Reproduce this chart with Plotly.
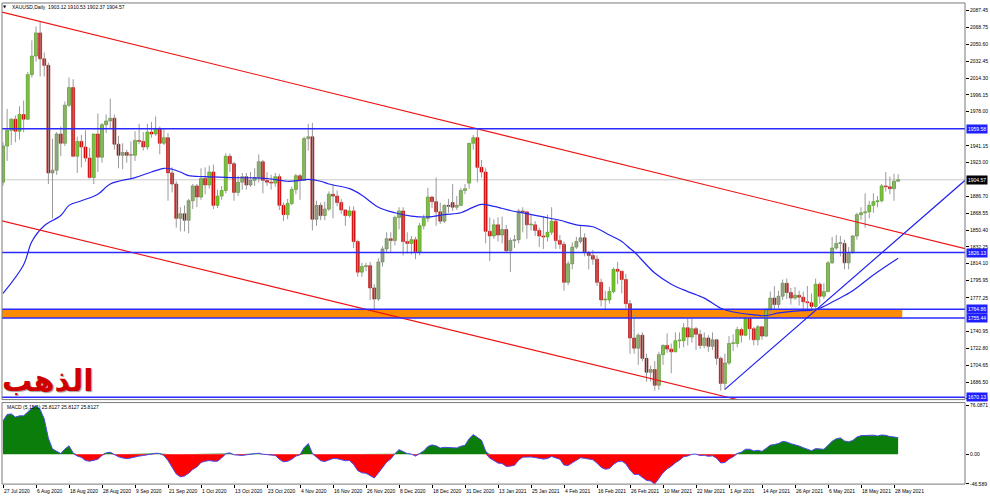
import plotly.graph_objects as go

# ---------------- data ----------------
tick_bars = [0, 8, 16, 24, 32, 40, 48, 56, 64, 72, 80, 88, 96, 104, 112, 120, 128,
             136, 144, 152, 160, 168, 176, 184, 192, 200, 208, 216]
tick_labels = ["27 Jul 2020", "6 Aug 2020", "18 Aug 2020", "28 Aug 2020", "9 Sep 2020",
               "21 Sep 2020", "1 Oct 2020", "13 Oct 2020", "23 Oct 2020", "4 Nov 2020",
               "16 Nov 2020", "26 Nov 2020", "8 Dec 2020", "18 Dec 2020", "31 Dec 2020",
               "13 Jan 2021", "25 Jan 2021", "4 Feb 2021", "16 Feb 2021", "26 Feb 2021",
               "10 Mar 2021", "22 Mar 2021", "1 Apr 2021", "14 Apr 2021", "26 Apr 2021",
               "6 May 2021", "18 May 2021", "28 May 2021"]

opens = [1902, 1941, 1958, 1970, 1957, 1975, 1970, 2018, 2038, 2063,
         2035, 2028, 1912, 1915, 1954, 1944, 1985, 2004, 1930, 1946,
         1940, 1928, 1907, 1954, 1929, 1964, 1968, 1971, 1943, 1931,
         1934, 1931, 1931, 1947, 1946, 1940, 1956, 1954, 1960, 1944,
         1950, 1912, 1900, 1863, 1868, 1861, 1882, 1898, 1886, 1906,
         1899, 1913, 1877, 1887, 1893, 1930, 1922, 1891, 1902, 1908,
         1899, 1904, 1907, 1924, 1904, 1902, 1901, 1908, 1877, 1867,
         1879, 1894, 1909, 1904, 1949, 1951, 1862, 1877, 1866, 1873,
         1889, 1887, 1880, 1872, 1866, 1871, 1838, 1805, 1811, 1812,
         1788, 1776, 1816, 1830, 1841, 1839, 1864, 1871, 1838, 1836,
         1840, 1827, 1855, 1863, 1886, 1881, 1870, 1860, 1877, 1880,
         1875, 1877, 1893, 1901, 1944, 1950, 1918, 1913, 1849, 1844,
         1856, 1845, 1851, 1828, 1839, 1840, 1871, 1870, 1856, 1856,
         1850, 1844, 1843, 1848, 1860, 1839, 1835, 1794, 1814, 1832,
         1838, 1842, 1826, 1823, 1819, 1794, 1775, 1775, 1784, 1808,
         1806, 1797, 1771, 1734, 1723, 1737, 1712, 1697, 1700, 1683,
         1716, 1726, 1722, 1719, 1731, 1731, 1745, 1735, 1744, 1738,
         1726, 1734, 1725, 1732, 1712, 1685, 1707, 1728, 1728, 1743,
         1737, 1755, 1744, 1732, 1746, 1736, 1764, 1777, 1770, 1779,
         1793, 1783, 1777, 1780, 1778, 1773, 1772, 1768, 1792, 1779,
         1784, 1815, 1831, 1836, 1836, 1815, 1826, 1844, 1867, 1869,
         1870, 1877, 1881, 1882, 1898, 1897, 1895, 1903.12]

highs = [1945, 1981, 1971, 1974, 1984, 1990, 2021, 2055, 2070, 2075,
         2042, 2031, 1949, 1956, 1962, 1989, 2015, 2013, 1951, 1953,
         1958, 1939, 1954, 1976, 1966, 1975, 1992, 1975, 1952, 1944,
         1937, 1946, 1957, 1965, 1956, 1965, 1967, 1973, 1962, 1960,
         1955, 1918, 1903, 1875, 1877, 1884, 1900, 1900, 1917, 1918,
         1920, 1921, 1894, 1898, 1933, 1933, 1924, 1909, 1912, 1912,
         1913, 1917, 1932, 1926, 1913, 1910, 1912, 1911, 1880, 1884,
         1897, 1911, 1911, 1951, 1965, 1966, 1882, 1880, 1881, 1892,
         1900, 1893, 1884, 1873, 1876, 1876, 1840, 1815, 1815, 1816,
         1792, 1820, 1833, 1848, 1848, 1866, 1875, 1875, 1848, 1844,
         1843, 1858, 1867, 1896, 1887, 1907, 1880, 1878, 1884, 1900,
         1887, 1896, 1900, 1944, 1953, 1959, 1926, 1917, 1864, 1862,
         1864, 1865, 1856, 1842, 1845, 1873, 1875, 1870, 1867, 1860,
         1853, 1865, 1867, 1875, 1862, 1845, 1838, 1817, 1837, 1843,
         1855, 1847, 1828, 1829, 1823, 1798, 1785, 1789, 1810, 1816,
         1806, 1803, 1775, 1760, 1739, 1740, 1717, 1704, 1709, 1719,
         1727, 1739, 1728, 1740, 1740, 1750, 1755, 1755, 1746, 1743,
         1740, 1737, 1740, 1733, 1714, 1717, 1736, 1738, 1746, 1745,
         1759, 1758, 1746, 1748, 1746, 1766, 1784, 1790, 1785, 1797,
         1798, 1788, 1789, 1785, 1784, 1790, 1782, 1798, 1794, 1793,
         1817, 1843, 1845, 1844, 1840, 1832, 1845, 1869, 1875, 1890,
         1882, 1890, 1887, 1900, 1913, 1908, 1911, 1910.53]

lows = [1898, 1925, 1942, 1945, 1948, 1956, 1969, 2015, 2032, 2016,
        2016, 1900, 1863, 1910, 1930, 1941, 1983, 1929, 1912, 1918,
        1924, 1906, 1900, 1913, 1923, 1955, 1960, 1937, 1917, 1916,
        1923, 1906, 1925, 1943, 1936, 1937, 1950, 1952, 1932, 1942,
        1882, 1891, 1853, 1849, 1849, 1847, 1873, 1875, 1883, 1889,
        1895, 1873, 1874, 1883, 1890, 1913, 1882, 1887, 1894, 1894,
        1897, 1898, 1902, 1890, 1898, 1894, 1897, 1872, 1860, 1862,
        1877, 1889, 1883, 1904, 1936, 1850, 1855, 1861, 1861, 1871,
        1863, 1876, 1868, 1855, 1864, 1831, 1800, 1800, 1806, 1775,
        1765, 1774, 1811, 1826, 1826, 1834, 1851, 1823, 1825, 1824,
        1819, 1823, 1851, 1859, 1874, 1855, 1857, 1858, 1869, 1871,
        1872, 1876, 1889, 1895, 1937, 1902, 1907, 1836, 1817, 1841,
        1838, 1836, 1826, 1805, 1831, 1836, 1848, 1841, 1850, 1844,
        1832, 1830, 1838, 1845, 1830, 1830, 1785, 1791, 1808, 1830,
        1836, 1822, 1808, 1813, 1790, 1768, 1760, 1771, 1782, 1792,
        1782, 1766, 1717, 1717, 1705, 1709, 1687, 1687, 1677, 1678,
        1705, 1718, 1696, 1719, 1723, 1724, 1726, 1729, 1721, 1722,
        1723, 1719, 1721, 1705, 1677, 1678, 1705, 1720, 1724, 1729,
        1736, 1732, 1726, 1726, 1732, 1735, 1759, 1764, 1766, 1775,
        1776, 1770, 1775, 1769, 1763, 1757, 1763, 1766, 1771, 1776,
        1784, 1814, 1829, 1822, 1808, 1808, 1825, 1840, 1861, 1853,
        1863, 1869, 1875, 1880, 1892, 1889, 1882, 1902.37]

closes = [1941, 1958, 1970, 1957, 1975, 1970, 2018, 2038, 2063, 2035,
          2028, 1912, 1915, 1954, 1944, 1985, 2004, 1930, 1946, 1940,
          1928, 1907, 1954, 1929, 1964, 1968, 1971, 1943, 1931, 1934,
          1931, 1931, 1947, 1946, 1940, 1956, 1954, 1960, 1944, 1950,
          1912, 1900, 1863, 1868, 1861, 1882, 1898, 1886, 1906, 1899,
          1913, 1877, 1887, 1893, 1930, 1922, 1891, 1902, 1908, 1899,
          1904, 1907, 1924, 1904, 1902, 1901, 1908, 1877, 1867, 1879,
          1894, 1909, 1904, 1949, 1951, 1862, 1877, 1866, 1873, 1889,
          1887, 1880, 1872, 1866, 1871, 1838, 1805, 1811, 1812, 1788,
          1776, 1816, 1830, 1841, 1839, 1864, 1871, 1838, 1836, 1840,
          1827, 1855, 1863, 1886, 1881, 1870, 1860, 1877, 1876, 1875,
          1877, 1893, 1895, 1944, 1950, 1918, 1913, 1849, 1844, 1856,
          1845, 1851, 1828, 1839, 1840, 1871, 1870, 1856, 1856, 1850,
          1844, 1843, 1848, 1860, 1839, 1835, 1794, 1814, 1832, 1838,
          1842, 1826, 1823, 1819, 1794, 1775, 1775, 1784, 1808, 1806,
          1797, 1771, 1734, 1723, 1737, 1712, 1697, 1700, 1683, 1716,
          1726, 1722, 1719, 1731, 1731, 1745, 1735, 1744, 1738, 1726,
          1734, 1725, 1732, 1712, 1685, 1707, 1728, 1728, 1743, 1737,
          1755, 1744, 1732, 1746, 1736, 1764, 1777, 1770, 1779, 1793,
          1783, 1777, 1780, 1778, 1773, 1772, 1768, 1792, 1779, 1784,
          1815, 1831, 1836, 1836, 1815, 1826, 1844, 1867, 1869, 1870,
          1877, 1881, 1882, 1898, 1897, 1895, 1903, 1904.57]

# moving average (read at sample bars)
ma_bars = [0, 5, 7, 10, 14, 16, 19, 23, 26, 32, 36, 39, 41, 43, 45, 49, 56, 64, 69, 72,
           74, 77, 79, 84, 87, 91, 95, 99, 103, 107, 111, 113, 116, 119, 123, 127, 131,
           135, 139, 143, 147, 150, 152, 153, 158, 162, 166, 170, 174, 177, 182, 185,
           188, 192, 196, 198, 202, 206, 211, 217]
ma_values = [1782, 1813, 1838, 1855, 1866, 1877, 1882, 1889, 1900, 1907, 1913, 1917, 1916,
             1913, 1909, 1908, 1907, 1906, 1903, 1904, 1905, 1903, 1900, 1895, 1888, 1875,
             1869, 1865.5, 1864.5, 1867, 1869, 1873, 1878, 1876, 1871.5, 1868, 1864.5, 1861,
             1856, 1854, 1845, 1838, 1830.5, 1827, 1804, 1792, 1784, 1777, 1766, 1762, 1759,
             1758, 1761, 1763, 1764, 1766, 1775, 1785, 1802, 1820]

# MACD (5,15,1) per bar
macd = [52, 62, 63, 58, 60, 60, 66, 72, 76.0871, 70,
        55, 25, 8, 4, 1, 8, 13, 2, -3, -5,
        -10, -11, -10, -8, -2, 2, 3, -1, -4, -6,
        -7, -6, -4, -3, -2, -1, 1, 1.5, 1, -2,
        -10, -20, -31, -35.5, -34, -30, -24, -20, -13, -11,
        -10, -11, -11, -6, 1, 2, -1, -1.5, -2, -1,
        0, 1, 1.5, 0, -1, -1.5, -2, -8, -12, -11,
        -8, -3, -1, 10.2, 16.7, 1.2, -4.7, -10.2, -11.5, -8.5,
        -6.8, -7.0, -8.5, -10.3, -9.8, -16.0, -25.8, -29.2, -29.8, -33.9,
        -37.3, -29.5, -20.7, -12.5, -7.6, 0.8, 7.1, 3.6, 1.0, 0.2,
        -3.0, 1.1, 5.1, 12.0, 14.5, 13.0, 9.6, 10.7, 10.8, 10.1,
        9.7, 12.4, 13.8, 24.3, 30.6, 26.4, 21.8, 4.9, -6.2, -9.9,
        -14.0, -14.6, -19.1, -18.7, -17.4, -9.5, -4.7, -4.6, -4.3, -5.3,
        -6.9, -7.7, -6.8, -3.5, -5.8, -7.8, -17.1, -17.6, -13.5, -9.2,
        -5.6, -6.5, -7.5, -8.6, -14.0, -20.6, -23.6, -22.5, -15.9, -11.8,
        -10.8, -15.2, -24.8, -31.7, -31.5, -36, -41, -42, -46.5, -38,
        -29, -23, -19, -13.5, -9.5, -4.0, -2.8, -0.2, 0.1, -2.2,
        -1.8, -3.3, -2.6, -6.3, -13.8, -13.0, -7.6, -4.2, 1.2, 3.0,
        7.7, 7.8, 5.0, 6.1, 4.4, 9.0, 14.1, 15.0, 16.7, 20.0,
        19.0, 16.4, 14.8, 12.8, 10.1, 7.9, 5.4, 8.7, 7.6, 7.6,
        13.8, 20.2, 24.1, 25.4, 20.7, 19.3, 21.5, 26.7, 29.0, 29.4,
        29.9, 29.7, 28.5, 30.0, 29.5, 27.5, 26.9, 25.8127]

# analyst drawings: (bar, price) anchors
upper_channel_bars = [-1, 234]
upper_channel_prices = [2086.3, 1829.5]
lower_channel_bars = [-1, 180]
lower_channel_prices = [1861.1, 1665.4]
support_trend_bars = [175, 234]
support_trend_prices = [1678.6, 1907.0]
blue_levels = [1959.58, 1826.13, 1764.86, 1755.44, 1670.13]
zone_low, zone_high = 1755.44, 1764.86
zone_end_bar = 218
last_price = 1904.57

price_tick_vals = [2087.45, 2068.75, 2050.60, 2032.45, 2014.30, 1996.15, 1978.00, 1941.15,
                   1923.00, 1886.70, 1868.55, 1850.40, 1832.25, 1814.10, 1795.95, 1777.25,
                   1740.95, 1722.80, 1704.65, 1686.50, 1668.35]
macd_tick_vals = [76.0871, 0.0, -46.589]
macd_tick_text = ["76.0871", "0.00", "-46.589"]

# ---------------- layout geometry ----------------
W, H = 990, 503
PL, PR = 2, 965           # plot left / right pixel
def py(p):                # pixel row -> paper fraction
    return 1 - p / H
def px(p):
    return (p - PL) / (PR - PL)

MAIN_DOM = [py(402), py(3)]
MACD_DOM = [py(487), py(405)]
X_RANGE = [-0.2424, 233.21]
Y_RANGE = [1667.52, 2095.28]
Y2_RANGE = [-46.8, 80.7]

FONT = "Liberation Sans"
n = len(closes)
idx = list(range(n))

fig = go.Figure()

# --- MACD panel ---
pos = [max(v, 0) for v in macd]
neg = [min(v, 0) for v in macd]
fig.add_trace(go.Scatter(x=idx, y=pos, xaxis="x2", yaxis="y2", mode="lines",
                         line=dict(width=0), fill="tozeroy", fillcolor="#0b7d0b",
                         hoverinfo="skip"))
fig.add_trace(go.Scatter(x=idx, y=neg, xaxis="x2", yaxis="y2", mode="lines",
                         line=dict(width=0), fill="tozeroy", fillcolor="#ff0000",
                         hoverinfo="skip"))
fig.add_trace(go.Scatter(x=idx, y=macd, xaxis="x2", yaxis="y2", mode="lines",
                         line=dict(color="#4a4ae8", width=1), hoverinfo="skip"))

# --- candles: wicks ---
wx, wy = [], []
for i in idx:
    wx += [i, i, None]
    wy += [lows[i], highs[i], None]
fig.add_trace(go.Scatter(x=wx, y=wy, mode="lines", line=dict(color="#9a9a9a", width=1),
                         hoverinfo="skip"))

# --- candles: bodies ---
base = [min(o, c) for o, c in zip(opens, closes)]
length = [max(abs(c - o), 0.9) for o, c in zip(opens, closes)]
up = [c >= o for o, c in zip(opens, closes)]
fig.add_trace(go.Bar(x=idx, y=length, base=base, width=0.72,
                     marker=dict(color=["#7ad42a" if u else "#e60000" for u in up],
                                 line=dict(color=["#3f7f16" if u else "#b00000" for u in up],
                                           width=0.6)),
                     hoverinfo="skip"))

# --- moving average ---
fig.add_trace(go.Scatter(x=ma_bars, y=ma_values, mode="lines", line_shape="spline",
                         line=dict(color="#2424f0", width=1.2), hoverinfo="skip"))

# --- trend lines ---
fig.add_trace(go.Scatter(x=upper_channel_bars, y=upper_channel_prices, mode="lines",
                         line=dict(color="#f01010", width=1.1), hoverinfo="skip"))
fig.add_trace(go.Scatter(x=lower_channel_bars, y=lower_channel_prices, mode="lines",
                         line=dict(color="#f01010", width=1.1), hoverinfo="skip"))
fig.add_trace(go.Scatter(x=support_trend_bars, y=support_trend_prices, mode="lines",
                         line=dict(color="#2020f0", width=1.2), hoverinfo="skip"))

# ---------------- shapes ----------------
shapes = []
shapes.append(dict(type="rect", xref="x", yref="y", x0=X_RANGE[0], x1=zone_end_bar,
                   y0=zone_low, y1=zone_high, fillcolor="#ff8c00", line=dict(width=0),
                   layer="below"))
shapes.append(dict(type="line", xref="paper", yref="y", x0=0, x1=1, y0=last_price,
                   y1=last_price, line=dict(color="#c8c8c8", width=1), layer="below"))
for lv in blue_levels:
    shapes.append(dict(type="line", xref="paper", yref="y", x0=0, x1=1, y0=lv, y1=lv,
                       line=dict(color="#2a2aff", width=1.5)))
for dom in (MAIN_DOM, MACD_DOM):
    shapes.append(dict(type="rect", xref="paper", yref="paper", x0=0, x1=1,
                       y0=dom[0], y1=dom[1], line=dict(color="#7a7a7a", width=1)))

# ---------------- annotations ----------------
ann = []
for b, lab in zip(tick_bars, tick_labels):
    ann.append(dict(x=b, xref="x2", y=py(494), yref="paper", text=lab, showarrow=False,
                    xanchor="left", yanchor="middle", xshift=-1,
                    font=dict(family=FONT, size=5, color="#000000")))
ann.append(dict(x=px(4.5), xref="paper", y=py(7), yref="paper", text="▼", showarrow=False,
                xanchor="center", yanchor="middle", font=dict(family="DejaVu Sans", size=4,
                                                               color="#000000")))
ann.append(dict(x=px(10), xref="paper", y=py(7), yref="paper",
                text="XAUUSD,Daily  1903.12 1910.53 1902.37 1904.57", showarrow=False,
                xanchor="left", yanchor="middle", font=dict(family=FONT, size=5, color="#000000")))
ann.append(dict(x=px(5), xref="paper", y=py(409.5), yref="paper",
                text="MACD (5,15,1) 25.8127 25.8127 25.8127", showarrow=False,
                xanchor="left", yanchor="middle", font=dict(family=FONT, size=5, color="#000000")))
ann.append(dict(x=px(47), xref="paper", y=py(383), yref="paper", text="الذهب",
                showarrow=False, xanchor="center", yanchor="middle",
                font=dict(family="DejaVu Sans", size=30, color="#d00000", weight="bold",
                          shadow="1px 1px 1px #a0a0a0")))
for lv in blue_levels:
    ann.append(dict(x=1, xref="paper", y=lv, yref="y", text=f"{lv:.2f}", showarrow=False,
                    xanchor="left", yanchor="middle", xshift=1, bgcolor="#1f1fff",
                    borderpad=1, font=dict(family=FONT, size=5, color="#ffffff")))
ann.append(dict(x=1, xref="paper", y=last_price, yref="y", text=f"{last_price:.2f}",
                showarrow=False, xanchor="left", yanchor="middle", xshift=1,
                bgcolor="#000000", borderpad=1, font=dict(family=FONT, size=5, color="#ffffff")))

fig.update_layout(
    width=W, height=H,
    margin=dict(l=PL, r=W - PR, t=0, b=0, pad=0),
    paper_bgcolor="#ffffff", plot_bgcolor="#ffffff",
    showlegend=False, barmode="overlay", hovermode=False,
    shapes=shapes, annotations=ann,
    xaxis=dict(domain=[0, 1], anchor="y", range=X_RANGE, showgrid=False, zeroline=False,
               showticklabels=False, ticks="", showline=False),
    xaxis2=dict(domain=[0, 1], anchor="y2", matches="x", range=X_RANGE, showgrid=False,
                zeroline=False, showticklabels=False, ticks="outside", ticklen=3,
                tickcolor="#000000", tickwidth=1, tickvals=tick_bars, showline=False),
    yaxis=dict(domain=MAIN_DOM, anchor="x", side="right", range=Y_RANGE, showgrid=False,
               zeroline=False, showline=False, ticks="outside", ticklen=3,
               tickcolor="#000000", tickwidth=1, tickvals=price_tick_vals,
               ticktext=[f"{v:.2f}" for v in price_tick_vals],
               tickfont=dict(family=FONT, size=5, color="#000000")),
    yaxis2=dict(domain=MACD_DOM, anchor="x2", side="right", range=Y2_RANGE, showgrid=False,
                zeroline=True, zerolinecolor="#ffffff", zerolinewidth=0, showline=False,
                ticks="outside", ticklen=3, tickcolor="#000000", tickwidth=1,
                tickvals=macd_tick_vals, ticktext=macd_tick_text,
                tickfont=dict(family=FONT, size=5, color="#000000")),
)

# remove the browser's default page margin so the figure sits at the window origin
fig.write_html("out.html",
               config={"displayModeBar": False, "staticPlot": True},
               post_script="document.body.style.margin='0';document.body.style.overflow='hidden';")
